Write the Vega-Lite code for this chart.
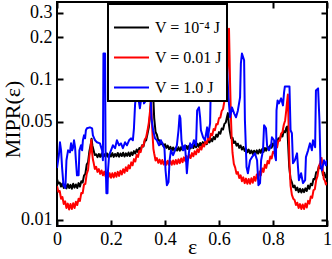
{
"$schema":"https://vega.github.io/schema/vega-lite/v6.json",
"width":270,"height":224,
"autosize":{"type":"none"},
"padding":{"left":57,"top":2,"right":5,"bottom":33},
"background":"white",
"config":{
 "view":{"stroke":"black","strokeWidth":2},
 "font":"Liberation Serif",
 "axis":{"labelFont":"Liberation Serif","titleFont":"Liberation Serif","labelColor":"black","titleColor":"black","tickColor":"black","tickWidth":2,"tickSize":-6,"domain":false,"grid":false,"labelFontSize":18,"titleFontSize":22,"titleFontWeight":"normal","labelFlush":false,"labelOverlap":false},
 "legend":{"orient":"none","legendX":51,"legendY":2,"strokeColor":"black","strokeWidth":2,"fillColor":"white","padding":5,"symbolType":"stroke","symbolSize":1225,"symbolStrokeWidth":2,"labelFont":"Liberation Serif","labelFontSize":16,"labelColor":"black","labelOffset":5,"rowPadding":3,"cornerRadius":0}
},
"data":{"values":[
{"V":"1e-4","x":0,"y":0.0195},{"V":"1e-4","x":0.005,"y":0.0181},{"V":"1e-4","x":0.01,"y":0.0184},{"V":"1e-4","x":0.015,"y":0.0172},{"V":"1e-4","x":0.02,"y":0.0181},{"V":"1e-4","x":0.025,"y":0.0168},{"V":"1e-4","x":0.03,"y":0.0178},{"V":"1e-4","x":0.035,"y":0.0167},{"V":"1e-4","x":0.04,"y":0.0179},{"V":"1e-4","x":0.045,"y":0.0168},{"V":"1e-4","x":0.05,"y":0.0177},{"V":"1e-4","x":0.055,"y":0.0166},{"V":"1e-4","x":0.06,"y":0.018},{"V":"1e-4","x":0.065,"y":0.0169},{"V":"1e-4","x":0.07,"y":0.0178},{"V":"1e-4","x":0.075,"y":0.0168},{"V":"1e-4","x":0.08,"y":0.0182},{"V":"1e-4","x":0.085,"y":0.0172},{"V":"1e-4","x":0.09,"y":0.0188},{"V":"1e-4","x":0.095,"y":0.0184},{"V":"1e-4","x":0.1,"y":0.0206},{"V":"1e-4","x":0.105,"y":0.0212},{"V":"1e-4","x":0.11,"y":0.0247},{"V":"1e-4","x":0.115,"y":0.0256},{"V":"1e-4","x":0.12,"y":0.0308},{"V":"1e-4","x":0.125,"y":0.0343},{"V":"1e-4","x":0.128,"y":0.0378},{"V":"1e-4","x":0.131,"y":0.0338},{"V":"1e-4","x":0.135,"y":0.0315},{"V":"1e-4","x":0.14,"y":0.0289},{"V":"1e-4","x":0.145,"y":0.0292},{"V":"1e-4","x":0.15,"y":0.0279},{"V":"1e-4","x":0.155,"y":0.0294},{"V":"1e-4","x":0.16,"y":0.028},{"V":"1e-4","x":0.165,"y":0.0296},{"V":"1e-4","x":0.17,"y":0.0278},{"V":"1e-4","x":0.175,"y":0.0293},{"V":"1e-4","x":0.18,"y":0.0281},{"V":"1e-4","x":0.185,"y":0.0297},{"V":"1e-4","x":0.19,"y":0.0279},{"V":"1e-4","x":0.195,"y":0.0295},{"V":"1e-4","x":0.2,"y":0.0282},{"V":"1e-4","x":0.205,"y":0.0298},{"V":"1e-4","x":0.21,"y":0.028},{"V":"1e-4","x":0.215,"y":0.0294},{"V":"1e-4","x":0.22,"y":0.0283},{"V":"1e-4","x":0.225,"y":0.0299},{"V":"1e-4","x":0.23,"y":0.0281},{"V":"1e-4","x":0.235,"y":0.0296},{"V":"1e-4","x":0.24,"y":0.0284},{"V":"1e-4","x":0.245,"y":0.03},{"V":"1e-4","x":0.25,"y":0.0282},{"V":"1e-4","x":0.255,"y":0.0297},{"V":"1e-4","x":0.26,"y":0.0285},{"V":"1e-4","x":0.265,"y":0.0301},{"V":"1e-4","x":0.27,"y":0.0284},{"V":"1e-4","x":0.275,"y":0.0302},{"V":"1e-4","x":0.28,"y":0.0289},{"V":"1e-4","x":0.285,"y":0.0308},{"V":"1e-4","x":0.29,"y":0.0296},{"V":"1e-4","x":0.295,"y":0.0316},{"V":"1e-4","x":0.3,"y":0.0303},{"V":"1e-4","x":0.305,"y":0.0324},{"V":"1e-4","x":0.31,"y":0.0315},{"V":"1e-4","x":0.315,"y":0.0339},{"V":"1e-4","x":0.32,"y":0.0332},{"V":"1e-4","x":0.325,"y":0.0364},{"V":"1e-4","x":0.33,"y":0.0368},{"V":"1e-4","x":0.335,"y":0.0408},{"V":"1e-4","x":0.34,"y":0.0455},{"V":"1e-4","x":0.345,"y":0.0565},{"V":"1e-4","x":0.348,"y":0.07},{"V":"1e-4","x":0.351,"y":0.088},{"V":"1e-4","x":0.354,"y":0.103},{"V":"1e-4","x":0.357,"y":0.072},{"V":"1e-4","x":0.36,"y":0.053},{"V":"1e-4","x":0.365,"y":0.0422},{"V":"1e-4","x":0.37,"y":0.0403},{"V":"1e-4","x":0.375,"y":0.0367},{"V":"1e-4","x":0.38,"y":0.0368},{"V":"1e-4","x":0.385,"y":0.0344},{"V":"1e-4","x":0.39,"y":0.0353},{"V":"1e-4","x":0.395,"y":0.0333},{"V":"1e-4","x":0.4,"y":0.0345},{"V":"1e-4","x":0.405,"y":0.0325},{"V":"1e-4","x":0.41,"y":0.0337},{"V":"1e-4","x":0.415,"y":0.0318},{"V":"1e-4","x":0.42,"y":0.033},{"V":"1e-4","x":0.425,"y":0.031},{"V":"1e-4","x":0.43,"y":0.0327},{"V":"1e-4","x":0.435,"y":0.0309},{"V":"1e-4","x":0.44,"y":0.0326},{"V":"1e-4","x":0.445,"y":0.0311},{"V":"1e-4","x":0.45,"y":0.0328},{"V":"1e-4","x":0.455,"y":0.031},{"V":"1e-4","x":0.46,"y":0.0329},{"V":"1e-4","x":0.465,"y":0.0314},{"V":"1e-4","x":0.47,"y":0.0333},{"V":"1e-4","x":0.475,"y":0.0316},{"V":"1e-4","x":0.48,"y":0.0335},{"V":"1e-4","x":0.485,"y":0.0319},{"V":"1e-4","x":0.49,"y":0.0338},{"V":"1e-4","x":0.495,"y":0.0322},{"V":"1e-4","x":0.5,"y":0.0341},{"V":"1e-4","x":0.505,"y":0.0324},{"V":"1e-4","x":0.51,"y":0.0344},{"V":"1e-4","x":0.515,"y":0.0328},{"V":"1e-4","x":0.52,"y":0.0348},{"V":"1e-4","x":0.525,"y":0.0331},{"V":"1e-4","x":0.53,"y":0.0352},{"V":"1e-4","x":0.535,"y":0.0336},{"V":"1e-4","x":0.54,"y":0.0357},{"V":"1e-4","x":0.545,"y":0.034},{"V":"1e-4","x":0.55,"y":0.0361},{"V":"1e-4","x":0.555,"y":0.0345},{"V":"1e-4","x":0.56,"y":0.037},{"V":"1e-4","x":0.565,"y":0.0355},{"V":"1e-4","x":0.57,"y":0.0378},{"V":"1e-4","x":0.575,"y":0.0362},{"V":"1e-4","x":0.58,"y":0.0388},{"V":"1e-4","x":0.585,"y":0.0374},{"V":"1e-4","x":0.59,"y":0.0404},{"V":"1e-4","x":0.595,"y":0.039},{"V":"1e-4","x":0.6,"y":0.0421},{"V":"1e-4","x":0.605,"y":0.041},{"V":"1e-4","x":0.61,"y":0.0446},{"V":"1e-4","x":0.615,"y":0.044},{"V":"1e-4","x":0.62,"y":0.0482},{"V":"1e-4","x":0.625,"y":0.0492},{"V":"1e-4","x":0.63,"y":0.0545},{"V":"1e-4","x":0.633,"y":0.0575},{"V":"1e-4","x":0.636,"y":0.049},{"V":"1e-4","x":0.64,"y":0.0428},{"V":"1e-4","x":0.645,"y":0.038},{"V":"1e-4","x":0.65,"y":0.0384},{"V":"1e-4","x":0.655,"y":0.0352},{"V":"1e-4","x":0.66,"y":0.0361},{"V":"1e-4","x":0.665,"y":0.0337},{"V":"1e-4","x":0.67,"y":0.0348},{"V":"1e-4","x":0.675,"y":0.0325},{"V":"1e-4","x":0.68,"y":0.0338},{"V":"1e-4","x":0.685,"y":0.0316},{"V":"1e-4","x":0.69,"y":0.033},{"V":"1e-4","x":0.695,"y":0.0309},{"V":"1e-4","x":0.7,"y":0.0321},{"V":"1e-4","x":0.705,"y":0.0302},{"V":"1e-4","x":0.71,"y":0.0316},{"V":"1e-4","x":0.715,"y":0.0297},{"V":"1e-4","x":0.72,"y":0.0311},{"V":"1e-4","x":0.725,"y":0.0294},{"V":"1e-4","x":0.73,"y":0.031},{"V":"1e-4","x":0.735,"y":0.0293},{"V":"1e-4","x":0.74,"y":0.0312},{"V":"1e-4","x":0.745,"y":0.0296},{"V":"1e-4","x":0.75,"y":0.0315},{"V":"1e-4","x":0.755,"y":0.03},{"V":"1e-4","x":0.76,"y":0.0319},{"V":"1e-4","x":0.765,"y":0.0304},{"V":"1e-4","x":0.77,"y":0.0324},{"V":"1e-4","x":0.775,"y":0.031},{"V":"1e-4","x":0.78,"y":0.0331},{"V":"1e-4","x":0.785,"y":0.0317},{"V":"1e-4","x":0.79,"y":0.0339},{"V":"1e-4","x":0.795,"y":0.0326},{"V":"1e-4","x":0.8,"y":0.0349},{"V":"1e-4","x":0.805,"y":0.0336},{"V":"1e-4","x":0.81,"y":0.036},{"V":"1e-4","x":0.815,"y":0.035},{"V":"1e-4","x":0.82,"y":0.0381},{"V":"1e-4","x":0.825,"y":0.037},{"V":"1e-4","x":0.83,"y":0.0402},{"V":"1e-4","x":0.835,"y":0.0392},{"V":"1e-4","x":0.84,"y":0.0428},{"V":"1e-4","x":0.845,"y":0.042},{"V":"1e-4","x":0.85,"y":0.0455},{"V":"1e-4","x":0.853,"y":0.0462},{"V":"1e-4","x":0.856,"y":0.0345},{"V":"1e-4","x":0.86,"y":0.024},{"V":"1e-4","x":0.865,"y":0.0195},{"V":"1e-4","x":0.87,"y":0.0184},{"V":"1e-4","x":0.875,"y":0.017},{"V":"1e-4","x":0.88,"y":0.0175},{"V":"1e-4","x":0.885,"y":0.0162},{"V":"1e-4","x":0.89,"y":0.0169},{"V":"1e-4","x":0.895,"y":0.0157},{"V":"1e-4","x":0.9,"y":0.0166},{"V":"1e-4","x":0.905,"y":0.0156},{"V":"1e-4","x":0.91,"y":0.0165},{"V":"1e-4","x":0.915,"y":0.0157},{"V":"1e-4","x":0.92,"y":0.0167},{"V":"1e-4","x":0.925,"y":0.016},{"V":"1e-4","x":0.93,"y":0.0175},{"V":"1e-4","x":0.935,"y":0.0166},{"V":"1e-4","x":0.94,"y":0.018},{"V":"1e-4","x":0.945,"y":0.0176},{"V":"1e-4","x":0.95,"y":0.0195},{"V":"1e-4","x":0.955,"y":0.0194},{"V":"1e-4","x":0.96,"y":0.0218},{"V":"1e-4","x":0.965,"y":0.0219},{"V":"1e-4","x":0.97,"y":0.024},{"V":"1e-4","x":0.975,"y":0.0233},{"V":"1e-4","x":0.98,"y":0.0236},{"V":"1e-4","x":0.985,"y":0.0208},{"V":"1e-4","x":0.99,"y":0.0216},{"V":"1e-4","x":0.995,"y":0.02},{"V":"1e-4","x":1,"y":0.021},
{"V":"0.01","x":0,"y":0.0174},{"V":"0.01","x":0.005,"y":0.0158},{"V":"0.01","x":0.01,"y":0.016},{"V":"0.01","x":0.015,"y":0.0141},{"V":"0.01","x":0.02,"y":0.0145},{"V":"0.01","x":0.025,"y":0.0129},{"V":"0.01","x":0.03,"y":0.0135},{"V":"0.01","x":0.035,"y":0.0121},{"V":"0.01","x":0.04,"y":0.013},{"V":"0.01","x":0.045,"y":0.0118},{"V":"0.01","x":0.05,"y":0.0129},{"V":"0.01","x":0.055,"y":0.0119},{"V":"0.01","x":0.06,"y":0.0131},{"V":"0.01","x":0.065,"y":0.0121},{"V":"0.01","x":0.07,"y":0.0134},{"V":"0.01","x":0.075,"y":0.0127},{"V":"0.01","x":0.08,"y":0.0141},{"V":"0.01","x":0.085,"y":0.0136},{"V":"0.01","x":0.09,"y":0.0155},{"V":"0.01","x":0.095,"y":0.0154},{"V":"0.01","x":0.1,"y":0.0178},{"V":"0.01","x":0.105,"y":0.018},{"V":"0.01","x":0.11,"y":0.0212},{"V":"0.01","x":0.115,"y":0.0226},{"V":"0.01","x":0.12,"y":0.0285},{"V":"0.01","x":0.124,"y":0.032},{"V":"0.01","x":0.127,"y":0.0372},{"V":"0.01","x":0.13,"y":0.03},{"V":"0.01","x":0.133,"y":0.0268},{"V":"0.01","x":0.136,"y":0.0253},{"V":"0.01","x":0.14,"y":0.023},{"V":"0.01","x":0.145,"y":0.0238},{"V":"0.01","x":0.15,"y":0.0219},{"V":"0.01","x":0.155,"y":0.0229},{"V":"0.01","x":0.16,"y":0.0212},{"V":"0.01","x":0.165,"y":0.0224},{"V":"0.01","x":0.17,"y":0.0207},{"V":"0.01","x":0.175,"y":0.022},{"V":"0.01","x":0.18,"y":0.0203},{"V":"0.01","x":0.185,"y":0.0217},{"V":"0.01","x":0.19,"y":0.02},{"V":"0.01","x":0.195,"y":0.0214},{"V":"0.01","x":0.2,"y":0.0199},{"V":"0.01","x":0.205,"y":0.0214},{"V":"0.01","x":0.21,"y":0.02},{"V":"0.01","x":0.215,"y":0.0216},{"V":"0.01","x":0.22,"y":0.0202},{"V":"0.01","x":0.225,"y":0.0219},{"V":"0.01","x":0.23,"y":0.0205},{"V":"0.01","x":0.235,"y":0.0223},{"V":"0.01","x":0.24,"y":0.021},{"V":"0.01","x":0.245,"y":0.0229},{"V":"0.01","x":0.25,"y":0.0216},{"V":"0.01","x":0.255,"y":0.0236},{"V":"0.01","x":0.26,"y":0.0222},{"V":"0.01","x":0.265,"y":0.0244},{"V":"0.01","x":0.27,"y":0.0232},{"V":"0.01","x":0.275,"y":0.0256},{"V":"0.01","x":0.28,"y":0.0244},{"V":"0.01","x":0.285,"y":0.027},{"V":"0.01","x":0.29,"y":0.026},{"V":"0.01","x":0.295,"y":0.0289},{"V":"0.01","x":0.3,"y":0.028},{"V":"0.01","x":0.305,"y":0.031},{"V":"0.01","x":0.31,"y":0.0303},{"V":"0.01","x":0.315,"y":0.0336},{"V":"0.01","x":0.32,"y":0.0335},{"V":"0.01","x":0.325,"y":0.0372},{"V":"0.01","x":0.33,"y":0.0385},{"V":"0.01","x":0.335,"y":0.043},{"V":"0.01","x":0.34,"y":0.049},{"V":"0.01","x":0.344,"y":0.058},{"V":"0.01","x":0.348,"y":0.071},{"V":"0.01","x":0.351,"y":0.052},{"V":"0.01","x":0.354,"y":0.04},{"V":"0.01","x":0.357,"y":0.032},{"V":"0.01","x":0.36,"y":0.0296},{"V":"0.01","x":0.365,"y":0.0264},{"V":"0.01","x":0.37,"y":0.0275},{"V":"0.01","x":0.375,"y":0.0254},{"V":"0.01","x":0.38,"y":0.0268},{"V":"0.01","x":0.385,"y":0.025},{"V":"0.01","x":0.39,"y":0.0266},{"V":"0.01","x":0.395,"y":0.0247},{"V":"0.01","x":0.4,"y":0.0264},{"V":"0.01","x":0.405,"y":0.0246},{"V":"0.01","x":0.41,"y":0.0263},{"V":"0.01","x":0.415,"y":0.0245},{"V":"0.01","x":0.42,"y":0.0263},{"V":"0.01","x":0.425,"y":0.0246},{"V":"0.01","x":0.43,"y":0.0264},{"V":"0.01","x":0.435,"y":0.0248},{"V":"0.01","x":0.44,"y":0.0266},{"V":"0.01","x":0.445,"y":0.025},{"V":"0.01","x":0.45,"y":0.0269},{"V":"0.01","x":0.455,"y":0.0253},{"V":"0.01","x":0.46,"y":0.0273},{"V":"0.01","x":0.465,"y":0.0257},{"V":"0.01","x":0.47,"y":0.0278},{"V":"0.01","x":0.475,"y":0.0262},{"V":"0.01","x":0.48,"y":0.0284},{"V":"0.01","x":0.485,"y":0.0268},{"V":"0.01","x":0.49,"y":0.029},{"V":"0.01","x":0.495,"y":0.0275},{"V":"0.01","x":0.5,"y":0.0298},{"V":"0.01","x":0.505,"y":0.0283},{"V":"0.01","x":0.51,"y":0.0307},{"V":"0.01","x":0.515,"y":0.0292},{"V":"0.01","x":0.52,"y":0.0318},{"V":"0.01","x":0.525,"y":0.0303},{"V":"0.01","x":0.53,"y":0.033},{"V":"0.01","x":0.535,"y":0.0316},{"V":"0.01","x":0.54,"y":0.0345},{"V":"0.01","x":0.545,"y":0.0332},{"V":"0.01","x":0.55,"y":0.0363},{"V":"0.01","x":0.555,"y":0.035},{"V":"0.01","x":0.56,"y":0.0384},{"V":"0.01","x":0.565,"y":0.0372},{"V":"0.01","x":0.57,"y":0.041},{"V":"0.01","x":0.575,"y":0.04},{"V":"0.01","x":0.58,"y":0.0442},{"V":"0.01","x":0.585,"y":0.0435},{"V":"0.01","x":0.59,"y":0.048},{"V":"0.01","x":0.595,"y":0.0478},{"V":"0.01","x":0.6,"y":0.053},{"V":"0.01","x":0.605,"y":0.0535},{"V":"0.01","x":0.61,"y":0.0595},{"V":"0.01","x":0.615,"y":0.0615},{"V":"0.01","x":0.62,"y":0.07},{"V":"0.01","x":0.625,"y":0.078},{"V":"0.01","x":0.629,"y":0.095},{"V":"0.01","x":0.632,"y":0.12},{"V":"0.01","x":0.635,"y":0.17},{"V":"0.01","x":0.637,"y":0.23},{"V":"0.01","x":0.639,"y":0.15},{"V":"0.01","x":0.641,"y":0.095},{"V":"0.01","x":0.644,"y":0.055},{"V":"0.01","x":0.647,"y":0.038},{"V":"0.01","x":0.65,"y":0.03},{"V":"0.01","x":0.655,"y":0.025},{"V":"0.01","x":0.66,"y":0.0235},{"V":"0.01","x":0.665,"y":0.0212},{"V":"0.01","x":0.67,"y":0.0218},{"V":"0.01","x":0.675,"y":0.0198},{"V":"0.01","x":0.68,"y":0.0207},{"V":"0.01","x":0.685,"y":0.0188},{"V":"0.01","x":0.69,"y":0.02},{"V":"0.01","x":0.695,"y":0.0182},{"V":"0.01","x":0.7,"y":0.0196},{"V":"0.01","x":0.705,"y":0.018},{"V":"0.01","x":0.71,"y":0.0195},{"V":"0.01","x":0.715,"y":0.018},{"V":"0.01","x":0.72,"y":0.0197},{"V":"0.01","x":0.725,"y":0.0183},{"V":"0.01","x":0.73,"y":0.0202},{"V":"0.01","x":0.735,"y":0.0189},{"V":"0.01","x":0.74,"y":0.021},{"V":"0.01","x":0.745,"y":0.0197},{"V":"0.01","x":0.75,"y":0.022},{"V":"0.01","x":0.755,"y":0.0207},{"V":"0.01","x":0.76,"y":0.0232},{"V":"0.01","x":0.765,"y":0.0219},{"V":"0.01","x":0.77,"y":0.0246},{"V":"0.01","x":0.775,"y":0.0234},{"V":"0.01","x":0.78,"y":0.0262},{"V":"0.01","x":0.785,"y":0.0252},{"V":"0.01","x":0.79,"y":0.0282},{"V":"0.01","x":0.795,"y":0.0273},{"V":"0.01","x":0.8,"y":0.0305},{"V":"0.01","x":0.805,"y":0.0297},{"V":"0.01","x":0.81,"y":0.0332},{"V":"0.01","x":0.815,"y":0.0327},{"V":"0.01","x":0.82,"y":0.0366},{"V":"0.01","x":0.825,"y":0.0365},{"V":"0.01","x":0.83,"y":0.041},{"V":"0.01","x":0.835,"y":0.042},{"V":"0.01","x":0.84,"y":0.0475},{"V":"0.01","x":0.845,"y":0.051},{"V":"0.01","x":0.849,"y":0.06},{"V":"0.01","x":0.852,"y":0.069},{"V":"0.01","x":0.855,"y":0.078},{"V":"0.01","x":0.858,"y":0.045},{"V":"0.01","x":0.861,"y":0.025},{"V":"0.01","x":0.865,"y":0.0175},{"V":"0.01","x":0.87,"y":0.015},{"V":"0.01","x":0.875,"y":0.0141},{"V":"0.01","x":0.88,"y":0.0138},{"V":"0.01","x":0.885,"y":0.0127},{"V":"0.01","x":0.89,"y":0.0132},{"V":"0.01","x":0.895,"y":0.0121},{"V":"0.01","x":0.9,"y":0.0129},{"V":"0.01","x":0.905,"y":0.0119},{"V":"0.01","x":0.91,"y":0.0128},{"V":"0.01","x":0.915,"y":0.0119},{"V":"0.01","x":0.92,"y":0.013},{"V":"0.01","x":0.925,"y":0.0122},{"V":"0.01","x":0.93,"y":0.0136},{"V":"0.01","x":0.935,"y":0.013},{"V":"0.01","x":0.94,"y":0.0146},{"V":"0.01","x":0.945,"y":0.0143},{"V":"0.01","x":0.95,"y":0.0162},{"V":"0.01","x":0.955,"y":0.0165},{"V":"0.01","x":0.96,"y":0.0192},{"V":"0.01","x":0.965,"y":0.0205},{"V":"0.01","x":0.97,"y":0.024},{"V":"0.01","x":0.975,"y":0.0255},{"V":"0.01","x":0.98,"y":0.0275},{"V":"0.01","x":0.984,"y":0.023},{"V":"0.01","x":0.988,"y":0.0195},{"V":"0.01","x":0.992,"y":0.019},{"V":"0.01","x":0.996,"y":0.0178},{"V":"0.01","x":1,"y":0.0185},
{"V":"1.0","x":0,"y":0.0233},{"V":"1.0","x":0.007,"y":0.0288},{"V":"1.0","x":0.011,"y":0.0356},{"V":"1.0","x":0.015,"y":0.0312},{"V":"1.0","x":0.019,"y":0.0233},{"V":"1.0","x":0.024,"y":0.0176},{"V":"1.0","x":0.031,"y":0.0168},{"V":"1.0","x":0.035,"y":0.0265},{"V":"1.0","x":0.041,"y":0.0312},{"V":"1.0","x":0.048,"y":0.0302},{"V":"1.0","x":0.052,"y":0.035},{"V":"1.0","x":0.056,"y":0.0312},{"V":"1.0","x":0.059,"y":0.0323},{"V":"1.0","x":0.063,"y":0.0368},{"V":"1.0","x":0.067,"y":0.0328},{"V":"1.0","x":0.07,"y":0.0265},{"V":"1.0","x":0.074,"y":0.0207},{"V":"1.0","x":0.08,"y":0.0207},{"V":"1.0","x":0.083,"y":0.0312},{"V":"1.0","x":0.089,"y":0.0339},{"V":"1.0","x":0.093,"y":0.0312},{"V":"1.0","x":0.096,"y":0.0368},{"V":"1.0","x":0.1,"y":0.0399},{"V":"1.0","x":0.104,"y":0.038},{"V":"1.0","x":0.107,"y":0.0434},{"V":"1.0","x":0.111,"y":0.0448},{"V":"1.0","x":0.122,"y":0.0455},{"V":"1.0","x":0.13,"y":0.0448},{"V":"1.0","x":0.133,"y":0.0399},{"V":"1.0","x":0.141,"y":0.0368},{"V":"1.0","x":0.148,"y":0.0356},{"V":"1.0","x":0.159,"y":0.035},{"V":"1.0","x":0.167,"y":0.0312},{"V":"1.0","x":0.17,"y":0.0265},{"V":"1.0","x":0.172,"y":0.153},{"V":"1.0","x":0.178,"y":0.153},{"V":"1.0","x":0.18,"y":0.0265},{"V":"1.0","x":0.183,"y":0.0154},{"V":"1.0","x":0.187,"y":0.0154},{"V":"1.0","x":0.189,"y":0.0225},{"V":"1.0","x":0.193,"y":0.0288},{"V":"1.0","x":0.2,"y":0.0312},{"V":"1.0","x":0.207,"y":0.0339},{"V":"1.0","x":0.215,"y":0.0323},{"V":"1.0","x":0.222,"y":0.0368},{"V":"1.0","x":0.23,"y":0.0339},{"V":"1.0","x":0.237,"y":0.035},{"V":"1.0","x":0.244,"y":0.0323},{"V":"1.0","x":0.252,"y":0.0356},{"V":"1.0","x":0.259,"y":0.0339},{"V":"1.0","x":0.267,"y":0.0368},{"V":"1.0","x":0.274,"y":0.038},{"V":"1.0","x":0.281,"y":0.0368},{"V":"1.0","x":0.285,"y":0.0448},{"V":"1.0","x":0.289,"y":0.0653},{"V":"1.0","x":0.293,"y":0.0808},{"V":"1.0","x":0.3,"y":0.0769},{"V":"1.0","x":0.307,"y":0.0622},{"V":"1.0","x":0.311,"y":0.0709},{"V":"1.0","x":0.319,"y":0.0769},{"V":"1.0","x":0.322,"y":0.0675},{"V":"1.0","x":0.33,"y":0.0709},{"V":"1.0","x":0.333,"y":0.0835},{"V":"1.0","x":0.341,"y":0.0863},{"V":"1.0","x":0.346,"y":0.0835},{"V":"1.0","x":0.35,"y":0.0528},{"V":"1.0","x":0.356,"y":0.0434},{"V":"1.0","x":0.363,"y":0.038},{"V":"1.0","x":0.37,"y":0.0368},{"V":"1.0","x":0.378,"y":0.0339},{"V":"1.0","x":0.385,"y":0.0368},{"V":"1.0","x":0.393,"y":0.0339},{"V":"1.0","x":0.398,"y":0.0323},{"V":"1.0","x":0.402,"y":0.0225},{"V":"1.0","x":0.407,"y":0.0176},{"V":"1.0","x":0.413,"y":0.0185},{"V":"1.0","x":0.417,"y":0.0265},{"V":"1.0","x":0.422,"y":0.0312},{"V":"1.0","x":0.43,"y":0.0288},{"V":"1.0","x":0.437,"y":0.0312},{"V":"1.0","x":0.444,"y":0.0339},{"V":"1.0","x":0.45,"y":0.0434},{"V":"1.0","x":0.454,"y":0.0554},{"V":"1.0","x":0.457,"y":0.0528},{"V":"1.0","x":0.461,"y":0.0368},{"V":"1.0","x":0.467,"y":0.0312},{"V":"1.0","x":0.474,"y":0.0339},{"V":"1.0","x":0.478,"y":0.0265},{"V":"1.0","x":0.481,"y":0.0214},{"V":"1.0","x":0.485,"y":0.0265},{"V":"1.0","x":0.493,"y":0.035},{"V":"1.0","x":0.5,"y":0.0328},{"V":"1.0","x":0.507,"y":0.0368},{"V":"1.0","x":0.515,"y":0.0339},{"V":"1.0","x":0.519,"y":0.0601},{"V":"1.0","x":0.526,"y":0.0632},{"V":"1.0","x":0.53,"y":0.0537},{"V":"1.0","x":0.533,"y":0.0434},{"V":"1.0","x":0.541,"y":0.0387},{"V":"1.0","x":0.548,"y":0.0368},{"V":"1.0","x":0.556,"y":0.0455},{"V":"1.0","x":0.559,"y":0.0387},{"V":"1.0","x":0.567,"y":0.0486},{"V":"1.0","x":0.57,"y":0.0984},{"V":"1.0","x":0.578,"y":0.0936},{"V":"1.0","x":0.585,"y":0.0745},{"V":"1.0","x":0.593,"y":0.0877},{"V":"1.0","x":0.6,"y":0.0709},{"V":"1.0","x":0.607,"y":0.103},{"V":"1.0","x":0.619,"y":0.0936},{"V":"1.0","x":0.626,"y":0.11},{"V":"1.0","x":0.63,"y":0.122},{"V":"1.0","x":0.635,"y":0.0745},{"V":"1.0","x":0.641,"y":0.0537},{"V":"1.0","x":0.648,"y":0.0632},{"V":"1.0","x":0.656,"y":0.0573},{"V":"1.0","x":0.663,"y":0.0537},{"V":"1.0","x":0.67,"y":0.0601},{"V":"1.0","x":0.678,"y":0.0745},{"V":"1.0","x":0.681,"y":0.13},{"V":"1.0","x":0.685,"y":0.153},{"V":"1.0","x":0.693,"y":0.137},{"V":"1.0","x":0.696,"y":0.0511},{"V":"1.0","x":0.702,"y":0.0237},{"V":"1.0","x":0.707,"y":0.0214},{"V":"1.0","x":0.715,"y":0.0265},{"V":"1.0","x":0.722,"y":0.0279},{"V":"1.0","x":0.733,"y":0.0297},{"V":"1.0","x":0.741,"y":0.0265},{"V":"1.0","x":0.746,"y":0.0176},{"V":"1.0","x":0.752,"y":0.0182},{"V":"1.0","x":0.756,"y":0.0265},{"V":"1.0","x":0.763,"y":0.0312},{"V":"1.0","x":0.767,"y":0.0471},{"V":"1.0","x":0.774,"y":0.0448},{"V":"1.0","x":0.778,"y":0.0339},{"V":"1.0","x":0.785,"y":0.0312},{"V":"1.0","x":0.793,"y":0.0339},{"V":"1.0","x":0.796,"y":0.0387},{"V":"1.0","x":0.804,"y":0.0368},{"V":"1.0","x":0.807,"y":0.0288},{"V":"1.0","x":0.811,"y":0.0265},{"V":"1.0","x":0.813,"y":0.0601},{"V":"1.0","x":0.817,"y":0.0709},{"V":"1.0","x":0.822,"y":0.0675},{"V":"1.0","x":0.83,"y":0.0733},{"V":"1.0","x":0.837,"y":0.0653},{"V":"1.0","x":0.841,"y":0.0808},{"V":"1.0","x":0.844,"y":0.0891},{"V":"1.0","x":0.861,"y":0.0891},{"V":"1.0","x":0.865,"y":0.0434},{"V":"1.0","x":0.87,"y":0.0413},{"V":"1.0","x":0.874,"y":0.0252},{"V":"1.0","x":0.881,"y":0.0265},{"V":"1.0","x":0.889,"y":0.0297},{"V":"1.0","x":0.896,"y":0.0191},{"V":"1.0","x":0.904,"y":0.0214},{"V":"1.0","x":0.911,"y":0.0182},{"V":"1.0","x":0.919,"y":0.0191},{"V":"1.0","x":0.922,"y":0.0279},{"V":"1.0","x":0.93,"y":0.0312},{"V":"1.0","x":0.937,"y":0.035},{"V":"1.0","x":0.944,"y":0.0312},{"V":"1.0","x":0.948,"y":0.0368},{"V":"1.0","x":0.956,"y":0.0328},{"V":"1.0","x":0.959,"y":0.0835},{"V":"1.0","x":0.967,"y":0.0863},{"V":"1.0","x":0.972,"y":0.0511},{"V":"1.0","x":0.976,"y":0.0244},{"V":"1.0","x":0.981,"y":0.0225},{"V":"1.0","x":0.989,"y":0.0265},{"V":"1.0","x":0.996,"y":0.0244},{"V":"1.0","x":1,"y":0.0265}
]},
"layer":[
 {"mark":{"type":"line","strokeWidth":2,"strokeJoin":"round","clip":true},
  "encoding":{
   "x":{"field":"x","type":"quantitative","scale":{"domain":[0,1],"nice":false,"zero":false},
        "axis":{"orient":"bottom","values":[0,0.2,0.4,0.6,0.8,1],"format":"~g","labelPadding":10,"title":"ε","titleBaseline":"alphabetic","titleY":27}},
   "y":{"field":"y","type":"quantitative","scale":{"type":"log","domain":[0.009,0.357],"nice":false},
        "axis":{"orient":"left","values":[0.01,0.05,0.1,0.2,0.3],"format":"~g","labelPadding":11,"title":"MIPR(ε)","titleBaseline":"alphabetic","titleX":-38,"titleY":117,"titleAngle":-90}},
   "color":{"field":"V","type":"nominal","scale":{"domain":["1e-4","0.01","1.0"],"range":["#000000","#ff0000","#0000ff"]},
        "legend":{"title":null,"labelExpr":"datum.label == '1e-4' ? 'V = 10⁻⁴ J' : 'V = ' + datum.label + ' J'"}}
  }},
 {"mark":{"type":"point","opacity":0},
  "encoding":{
   "x":{"field":"x","type":"quantitative","scale":{"domain":[0,1],"nice":false,"zero":false},
        "axis":{"orient":"top","values":[0,0.2,0.4,0.6,0.8,1],"labels":false,"title":null}},
   "y":{"field":"y","type":"quantitative","scale":{"type":"log","domain":[0.009,0.357],"nice":false},
        "axis":{"orient":"right","values":[0.01,0.05,0.1,0.2,0.3],"labels":false,"title":null}}
  }}
],
"resolve":{"axis":{"x":"independent","y":"independent"}}
}
